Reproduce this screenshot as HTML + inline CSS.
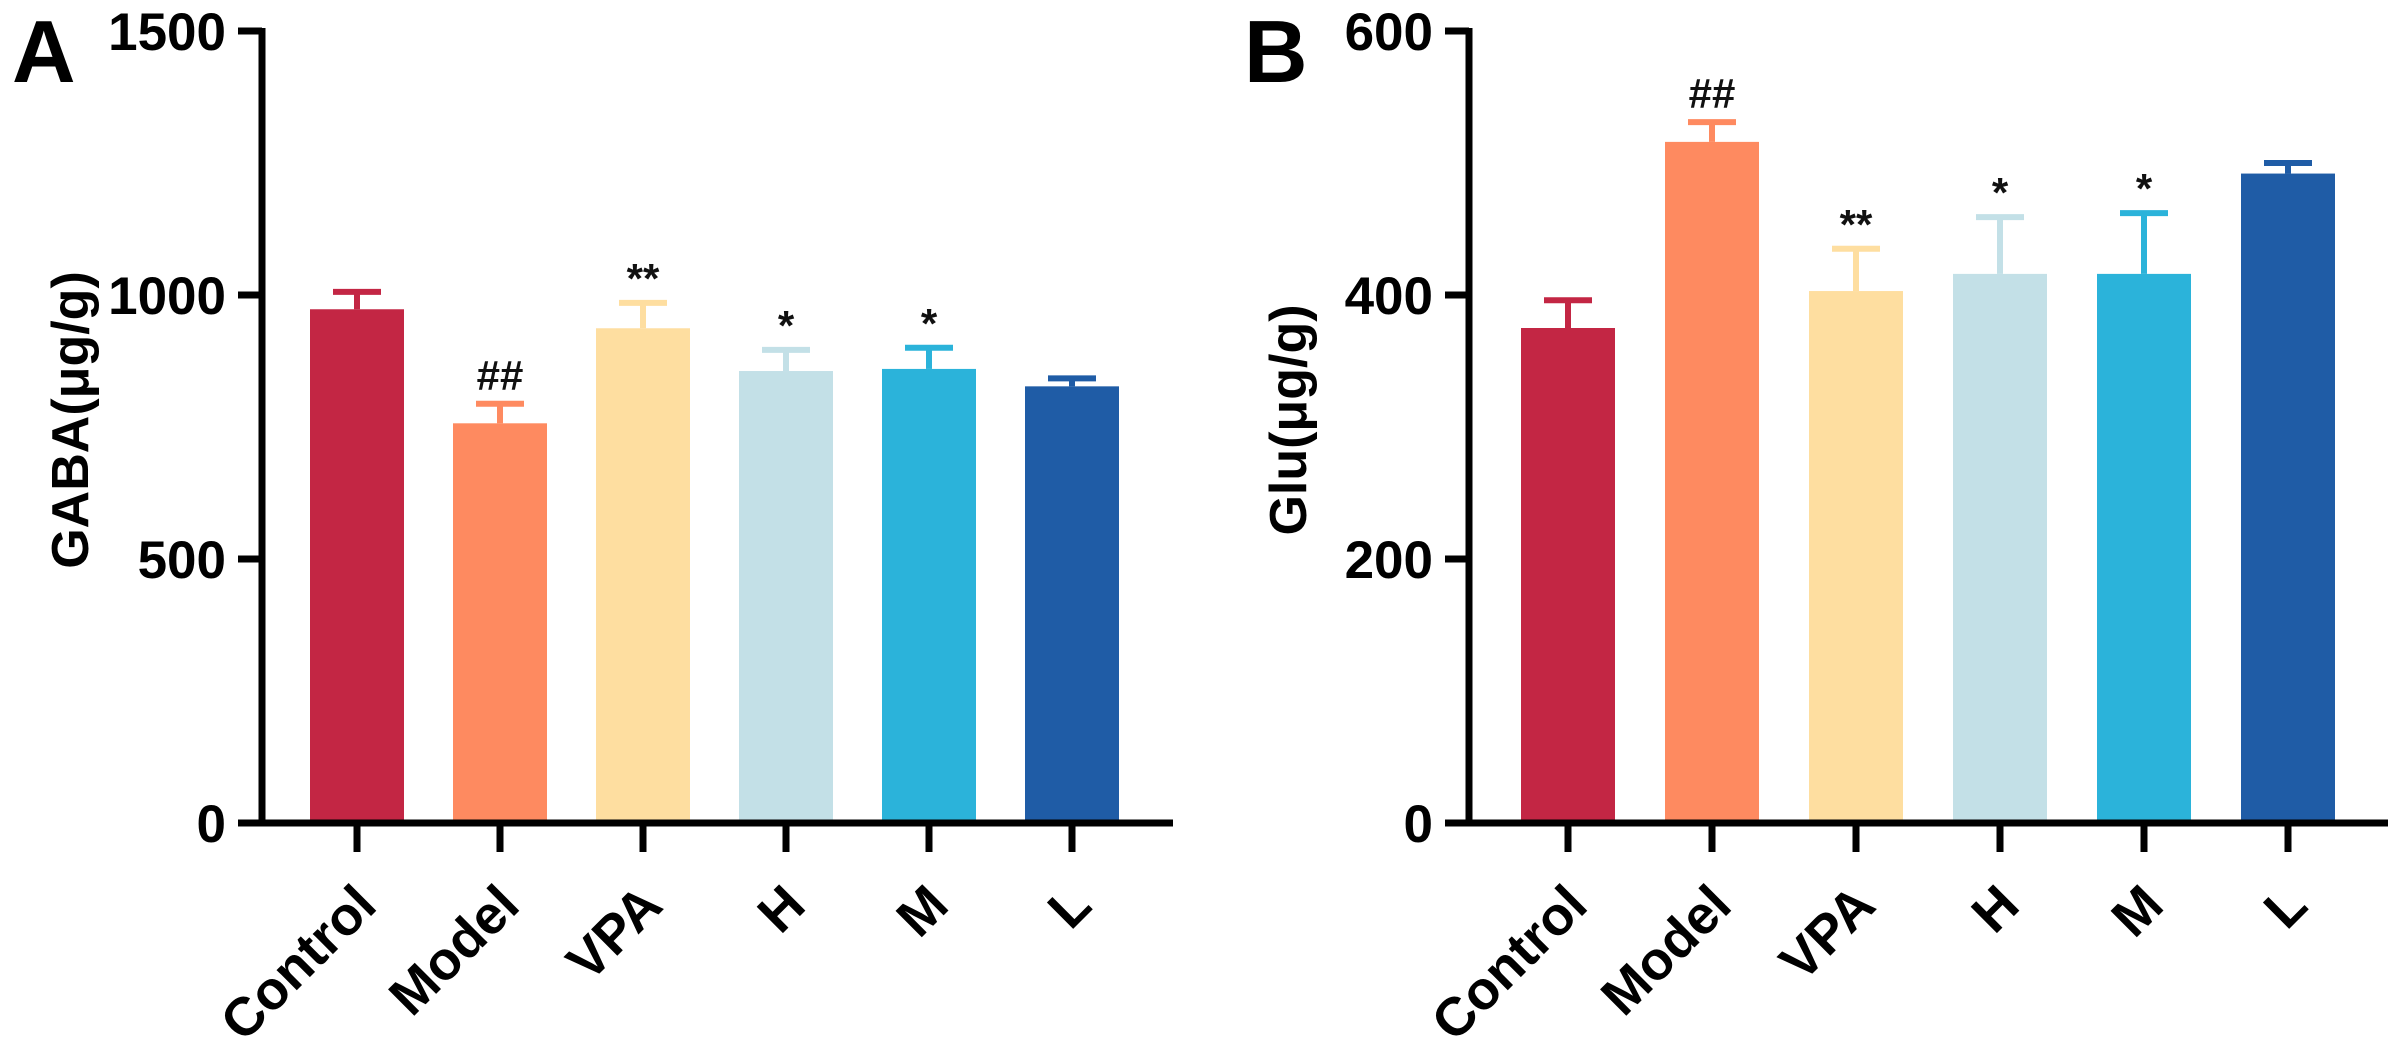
<!DOCTYPE html>
<html><head><meta charset="utf-8"><style>
html,body{margin:0;padding:0;background:#fff;overflow:hidden;}
svg{display:block;font-family:"Liberation Sans",Arial,sans-serif;font-weight:bold;}
</style></head><body>
<svg id="fig" width="2390" height="1043" viewBox="0 0 2390 1043" xmlns="http://www.w3.org/2000/svg"></svg>
<script>
const categories = ["Control","Model","VPA","H","M","L"];
const colors = ["#c32644","#fe8a60","#fedea0","#c3e0e7","#2bb3da","#1f5ca6"];
const gabaValues = [973,757,937,856,860,827];
const gabaErrors = [33,37,48,40,40,15];
const gabaMarks = ["","##","**","*","*",""];
const gabaTicks = [0,500,1000,1500];
const gluValues = [375,516,403,416,416,492];
const gluErrors = [21,15,32,43,46,8];
const gluMarks = ["","##","**","*","*",""];
const gluTicks = [0,200,400,600];

const NS="http://www.w3.org/2000/svg";
const svg=document.getElementById('fig');
function mk(tag,attrs,parent){const e=document.createElementNS(NS,tag);for(const k in attrs)e.setAttribute(k,attrs[k]);(parent||svg).appendChild(e);return e;}

function panel(cfg){
  const g=mk('g',{});
  
  
  const y0=823,yTop=31;
  const yScale=v=>y0-(v/cfg.max)*(y0-yTop);
  const xScale=i=>cfg.x0+i*cfg.step;
  cfg.values.forEach((v,i)=>{
    const cx=xScale(i),w=94;
    const eTop=yScale(v+cfg.errors[i]);
    const el=mk('line',{x1:cx,x2:cx,y1:yScale(v),y2:eTop,stroke:colors[i],'stroke-width':6},g);
    
    
    const cap=mk('line',{x1:cx-24,x2:cx+24,y1:eTop,y2:eTop,stroke:colors[i],'stroke-width':6},g);
    
    
    const r=mk('rect',{x:cx-w/2,y:yScale(v),width:w,height:y0-yScale(v),fill:colors[i]},g);
    
    
    if(cfg.marks[i]){
      const t=mk('text',{x:cx,y:eTop-(cfg.marks[i]=='##'?14:10),'text-anchor':'middle','font-size':42,fill:'#111'},g);
      t.textContent=cfg.marks[i];
      
      
    }
    const xt=mk('line',{x1:cx,x2:cx,y1:y0,y2:852,stroke:'#000','stroke-width':7},g);
    
    
    const lab=mk('text',{x:0,y:0,'text-anchor':'end','font-size':54,fill:'#000',transform:`translate(${cx+22},${908}) rotate(-45)`},g);
    lab.textContent=categories[i];
    
    
  });
  const ya=mk('line',{x1:cfg.ax,x2:cfg.ax,y1:yTop-3,y2:y0+3,stroke:'#000','stroke-width':7},g);
  
  
  const xa=mk('line',{x1:cfg.ax-24,x2:cfg.axEnd,y1:y0,y2:y0,stroke:'#000','stroke-width':7},g);
  
  
  cfg.ticks.forEach(t=>{
    const y=yScale(t);
    const tl=mk('line',{x1:cfg.ax-24,x2:cfg.ax,y1:y,y2:y,stroke:'#000','stroke-width':7},g);
    
    
    const tt=mk('text',{x:cfg.ax-36,y:y+19,'text-anchor':'end','font-size':53,fill:'#000'},g);
    tt.textContent=t;
    
    
  });
  const yt=mk('text',{x:0,y:0,'text-anchor':'middle','font-size':52,fill:'#000',transform:`translate(${cfg.titleX},${cfg.titleY}) rotate(-90)`},g);
  yt.textContent=cfg.title;
  
  
  const pl=mk('text',{x:cfg.letterX,y:82,'font-size':88,fill:'#000'},g);
  pl.textContent=cfg.letter;
  
  
}
panel({name:'gaba-chart',x0:357,step:143,ax:262,axEnd:1173,max:1500,values:gabaValues,errors:gabaErrors,marks:gabaMarks,ticks:gabaTicks,title:'GABA(μg/g)',titleX:88,titleY:420,letter:'A',letterX:12});
panel({name:'glu-chart',x0:1568,step:144,ax:1469,axEnd:2388,max:600,values:gluValues,errors:gluErrors,marks:gluMarks,ticks:gluTicks,title:'Glu(μg/g)',titleX:1306,titleY:420,letter:'B',letterX:1244});
</script>
</body></html>
